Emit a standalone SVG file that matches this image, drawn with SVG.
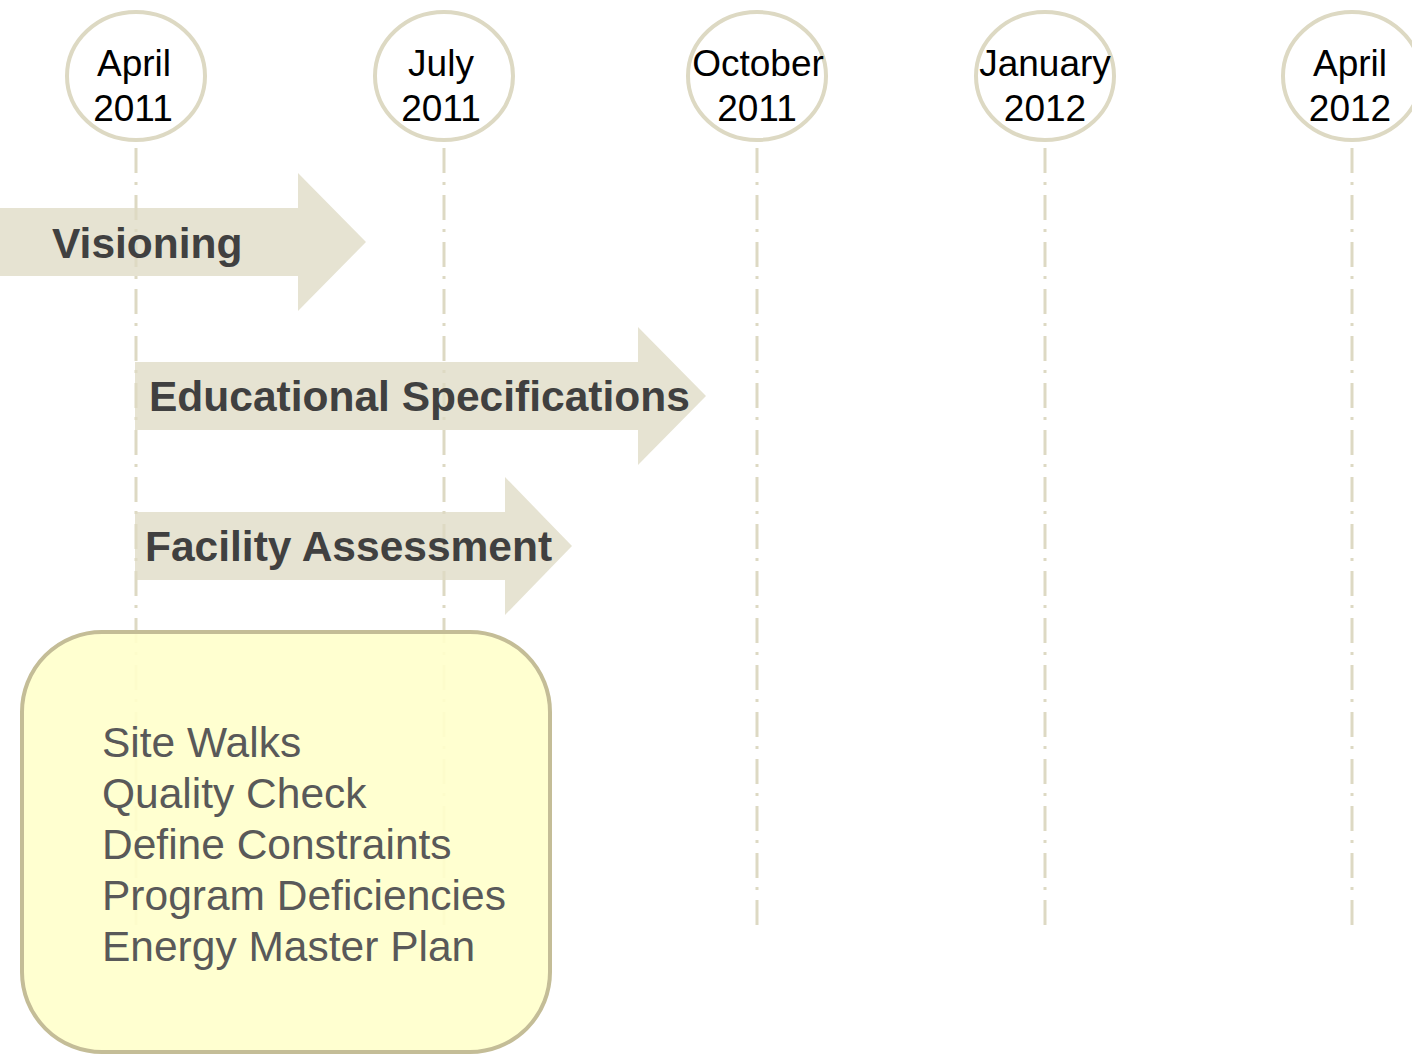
<svg xmlns="http://www.w3.org/2000/svg" width="1412" height="1054" viewBox="0 0 1412 1054">
<style>
.grid{stroke:#ddd9c3;stroke-width:3;stroke-dasharray:25 9 3 10;fill:none}
.ring{fill:#ffffff;stroke:#ddd9c3;stroke-width:4}
.date{font-family:"Liberation Sans",Arial,sans-serif;font-size:37px;fill:#000;text-anchor:middle}
.arrow{fill:#ddd9c3;fill-opacity:0.75}
.phase{font-family:"Liberation Sans",Arial,sans-serif;font-size:42.5px;font-weight:bold;fill:#404040}
.box{fill:#ffffcc;fill-opacity:0.92;stroke:#c4bd97;stroke-width:4}
.item{font-family:"Liberation Sans",Arial,sans-serif;font-size:42.5px;fill:#595959}
</style>
<rect width="1412" height="1054" fill="#ffffff"/>
<g id="connectors">
<line class="grid" x1="136" y1="148" x2="136" y2="925"/>
<line class="grid" x1="444" y1="148" x2="444" y2="925"/>
<line class="grid" x1="757" y1="148" x2="757" y2="925"/>
<line class="grid" x1="1045" y1="148" x2="1045" y2="925"/>
<line class="grid" x1="1352" y1="148" x2="1352" y2="925"/>
</g>
<g id="date-apr-2011">
<ellipse class="ring" cx="136" cy="76" rx="69" ry="64"/>
<text class="date" x="134" y="76">April</text>
<text class="date" x="133" y="121">2011</text>
</g>
<g id="date-jul-2011">
<ellipse class="ring" cx="444" cy="76" rx="69" ry="64"/>
<text class="date" x="441" y="76">July</text>
<text class="date" x="441" y="121">2011</text>
</g>
<g id="date-oct-2011">
<ellipse class="ring" cx="757" cy="76" rx="69" ry="64"/>
<text class="date" x="758" y="76">October</text>
<text class="date" x="757" y="121">2011</text>
</g>
<g id="date-jan-2012">
<ellipse class="ring" cx="1045" cy="76" rx="69" ry="64"/>
<text class="date" x="1045" y="76">January</text>
<text class="date" x="1045" y="121">2012</text>
</g>
<g id="date-apr-2012">
<ellipse class="ring" cx="1352" cy="76" rx="69" ry="64"/>
<text class="date" x="1350" y="76">April</text>
<text class="date" x="1350" y="121">2012</text>
</g>
<g id="phase-visioning">
<polygon class="arrow" points="0,208 298,208 298,173 366,242 298,311 298,276 0,276"/>
<text class="phase" x="52" y="258">Visioning</text>
</g>
<g id="phase-edspec">
<polygon class="arrow" points="135,362 638,362 638,327 706,396 638,465 638,430 135,430"/>
<text class="phase" x="149" y="411">Educational Specifications</text>
</g>
<g id="phase-facility">
<polygon class="arrow" points="135,512 505,512 505,477 572,546 505,615 505,580 135,580"/>
<text class="phase" x="145" y="561">Facility Assessment</text>
</g>
<g id="tasks">
<rect class="box" x="22" y="632" width="528" height="420" rx="80" ry="80"/>
<text class="item" x="102" y="757">Site Walks</text>
<text class="item" x="102" y="808">Quality Check</text>
<text class="item" x="102" y="859">Define Constraints</text>
<text class="item" x="102" y="910">Program Deficiencies</text>
<text class="item" x="102" y="961">Energy Master Plan</text>
</g>
</svg>
